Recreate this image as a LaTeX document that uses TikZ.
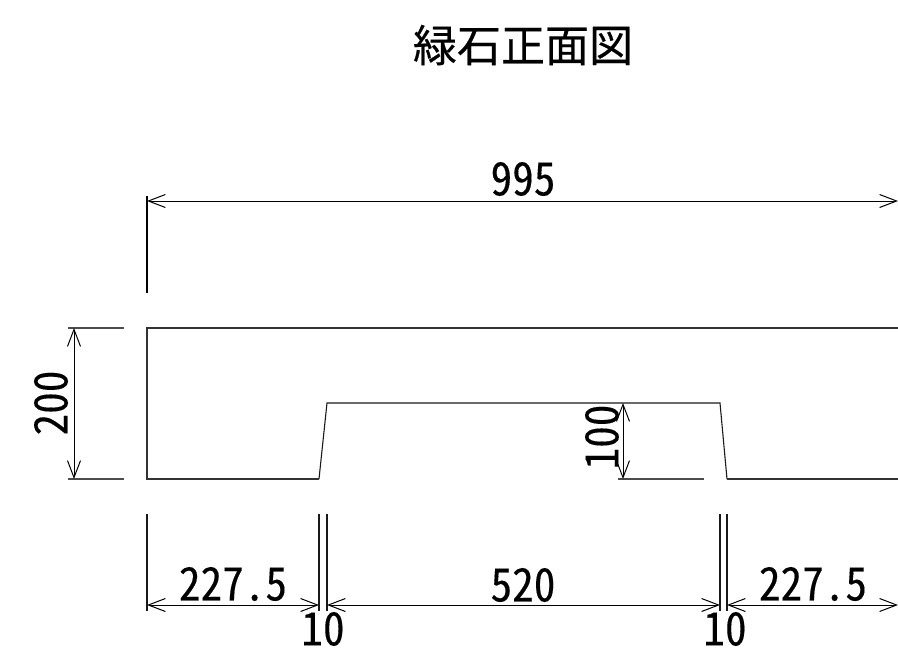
\documentclass[tikz,border=0pt]{standalone}
\usepackage{fontspec}
\usetikzlibrary{arrows.meta}
\newfontfamily\jpfont[FakeBold=0.4]{Noto Sans CJK JP}
\newfontfamily\hwfont[RawFeature=+hwid,FakeStretch=0.94,FakeBold=0.25]{Noto Sans CJK JP}
\tikzset{
  every picture/.style={x=1pt,y=-1pt},
  outline/.style={line width=1.3pt,black!80,line join=miter},
  thinline/.style={line width=1.1pt,black!90},
  extline/.style={line width=1.3pt,black!70},
  dimline/.style={line width=1pt,black,{Straight Barb[length=17pt,width=13pt,line width=1pt]}-{Straight Barb[length=17pt,width=13pt,line width=1pt]}},
  dimtext/.style={font=\hwfont\fontsize{46pt}{46pt}\selectfont,inner sep=0pt,text=black},
  titletext/.style={font=\jpfont\fontsize{44pt}{44pt}\selectfont,inner sep=0pt,text=black}
}
\begin{document}
\begin{tikzpicture}
\useasboundingbox (0,0) rectangle (898,649);
\node[titletext] (title) at (523,45) {緑石正面図};
% outline
\coordinate (tl) at (147,328);
\coordinate (tr) at (898,328);
\coordinate (bl) at (147,479);
\coordinate (c1) at (319,479);
\coordinate (c2) at (327,403);
\coordinate (c3) at (720,403);
\coordinate (c4) at (727,479);
\coordinate (br) at (898,479);
\draw[outline] (tr) -- (tl) -- (bl) -- (c1);
\draw[thinline] (c1) -- (c2) -- (c3) -- (c4);
\draw[outline] (c4) -- (br);
% 995
\coordinate (a1) at (147,201);
\coordinate (a2) at (898,201);
\coordinate (t1) at (147,196);
\coordinate (t2) at (147,293);
\draw[line width=2pt] (t1) -- (t2);
\draw[dimline] (a1) -- (a2);
\node[dimtext] (d995) at (523,179) {995};
% 200
\coordinate (e1a) at (68,328);
\coordinate (e1b) at (124,328);
\coordinate (e2a) at (68,479);
\coordinate (e2b) at (124,479);
\coordinate (v1) at (74,328);
\coordinate (v2) at (74,479);
\draw[extline] (e1a) -- (e1b);
\draw[extline] (e2a) -- (e2b);
\draw[dimline] (v1) -- (v2);
\node[dimtext,rotate=90] (d200) at (51,403) {200};
% 100
\coordinate (e3a) at (618,479);
\coordinate (e3b) at (704,479);
\coordinate (v3) at (623,403);
\coordinate (v4) at (623,479);
\draw[extline] (e3a) -- (e3b);
\draw[dimline] (v3) -- (v4);
\node[dimtext,rotate=90] (d100) at (602,437) {100};
% bottom dimension extension lines
\foreach \n/\xx in {x1/147,x2/319,x3/327,x4/720,x5/727}{
  \coordinate (\n a) at (\xx,514);
  \coordinate (\n b) at (\xx,611);
  \draw[thinline] (\n a) -- (\n b);
  \coordinate (\n) at (\xx,605);
}
\coordinate (x6) at (898,605);
\draw[dimline] (x1) -- (x2);
\draw[dimline] (x3) -- (x4);
\draw[dimline] (x5) -- (x6);
\node[dimtext] (l1) at (233,584) {227.5};
\node[dimtext] (l2) at (523,585) {520};
\node[dimtext] (l3) at (813,584) {227.5};
\node[dimtext] (l4) at (323,629) {10};
\node[dimtext] (l5) at (725,629) {10};
\end{tikzpicture}
\end{document}
